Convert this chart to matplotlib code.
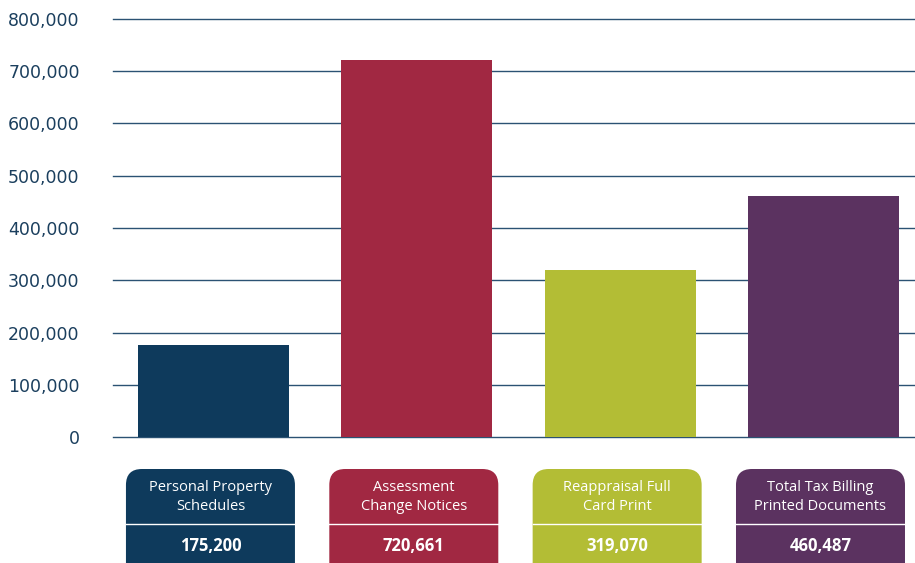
import matplotlib.pyplot as plt
from matplotlib.patches import FancyBboxPatch
import numpy as np

categories = ["Personal Property\nSchedules", "Assessment\nChange Notices",
              "Reappraisal Full\nCard Print", "Total Tax Billing\nPrinted Documents"]
values = [175200, 720661, 319070, 460487]
colors = ["#0e3a5c", "#a12842", "#b3bd35", "#5b3260"]
yticks = [0, 100000, 200000, 300000, 400000, 500000, 600000, 700000, 800000]

W, H = 915, 563
fig = plt.figure(figsize=(W / 100, H / 100), dpi=100)
ax = fig.add_axes([113 / W, 1 - 437 / H, (W - 113) / W, 418 / H])

x = np.arange(len(values))
ax.set_axisbelow(True)
ax.yaxis.grid(True, color="#2b5273", linewidth=1.0)
ax.bar(x, values, width=0.743, color=colors, zorder=3)

ax.set_xlim(-0.494, 3.45)
ax.set_ylim(0, 800000)
ax.set_yticks(yticks)
ax.set_yticklabels([f"{v:,}" for v in yticks], color="#1b3f5e", fontsize=12.5)
ax.tick_params(axis="y", length=0, pad=24)
ax.set_xticks([])
for s in ax.spines.values():
    s.set_visible(False)
for gl in ax.get_ygridlines():
    gl.set_clip_on(False)

# label boxes below the chart, in pixel coordinates of an overlay axes
ov = fig.add_axes([0, 0, 1, 1])
ov.set_xlim(0, W)
ov.set_ylim(H, 0)
ov.axis("off")

fig.canvas.draw()
for i, (lab, val, c) in enumerate(zip(categories, values, colors)):
    disp = ax.transData.transform((i, 0))
    cx = disp[0] - 3
    bw = 169
    top = 469
    box = FancyBboxPatch((cx - bw / 2, top), bw, 120,
                         boxstyle="round,pad=0,rounding_size=16",
                         facecolor=c, edgecolor="none", clip_on=False)
    ov.add_patch(box)
    ov.plot([cx - bw / 2, cx + bw / 2], [524, 524], color="white", linewidth=1)
    ov.text(cx, 497, lab, ha="center", va="center", color="white",
            fontsize=10.5, family="Open Sans", linespacing=1.3)
    ov.text(cx, 546, f"{val:,}", ha="center", va="center", color="white",
            fontsize=12, family="Open Sans", fontweight="bold")

fig.savefig("out.png", dpi=100)
